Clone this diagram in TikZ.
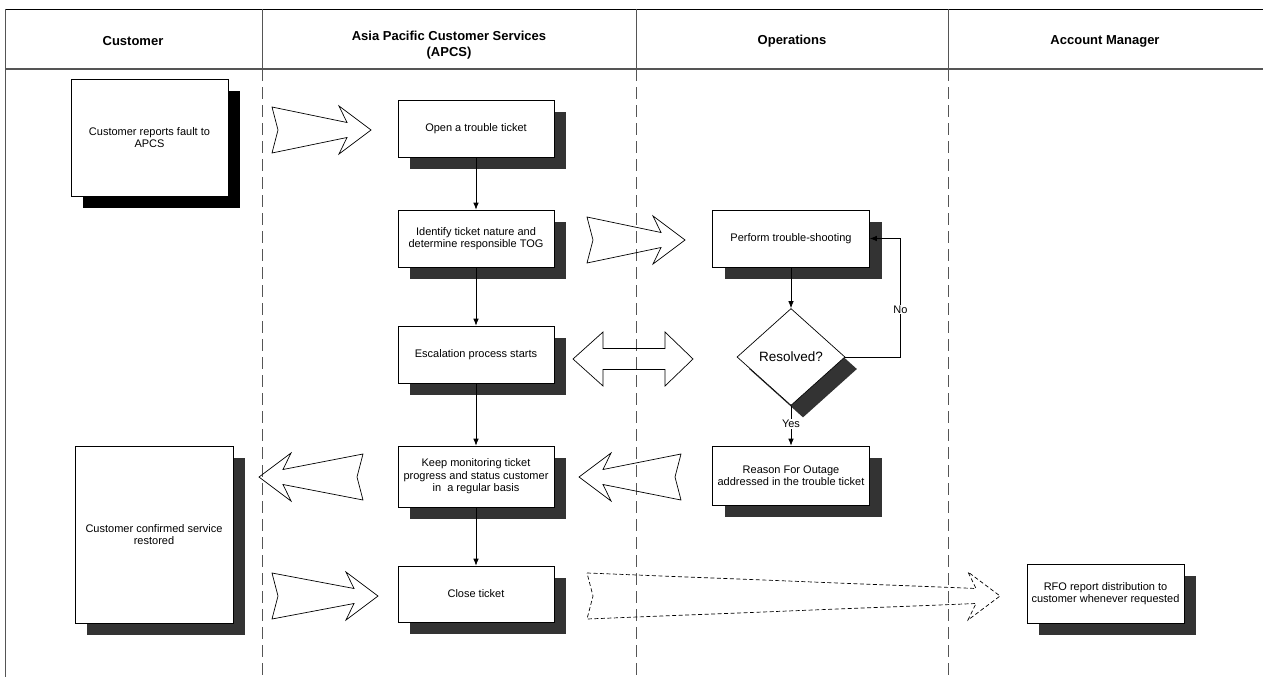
\documentclass[tikz,border=0pt]{standalone}
\usepackage{fontspec}
\setmainfont{Liberation Sans}
\usetikzlibrary{shapes.geometric,shadows,calc,arrows.meta}
\definecolor{shadowgray}{HTML}{333333}
\definecolor{lanegray}{HTML}{555555}

\tikzset{
  box/.style={draw=black, line width=0.7pt, fill=white,
    minimum width=156pt, minimum height=57pt, inner sep=2pt, align=center,
    font=\fontsize{11}{12.5}\selectfont,
    drop shadow={shadow xshift=12pt, shadow yshift=-12pt, opacity=1, fill=#1}},
  box/.default=shadowgray,
  decision/.style={diamond, draw=black, line width=0.7pt, fill=white,
    minimum width=108pt, minimum height=97pt, inner sep=0pt,
    font=\fontsize{13.5}{15}\selectfont,
    drop shadow={shadow xshift=12pt, shadow yshift=-12pt, opacity=1, fill=shadowgray}},
  header/.style={align=center, font=\fontsize{13}{16}\selectfont\bfseries},
  lanesolid/.style={draw=lanegray, line width=0.8pt},
  lanedash/.style={draw=lanegray, line width=0.8pt, dash pattern=on 12pt off 6pt},
  flow/.style={draw=black, line width=0.7pt, -{Latex[length=7pt,width=5.5pt]}},
  lbl/.style={fill=white, inner sep=1pt, font=\fontsize{11}{12}\selectfont},
  blockarrow/.style={draw=black, line width=0.7pt, line join=miter},
  dashedblock/.style={dash pattern=on 4pt off 2.5pt}
}

% notched, tapering block arrow: tail coordinate, tip coordinate, direction (1 = right, -1 = left)
\newcommand\fatarrow[4][]{%
  \draw[blockarrow,#1]
    ($(#2)+(0,-23)$) -- ($(#3)+({-(#4)*24},-7.5)$) -- ($(#3)+({-(#4)*32},-24)$) -- (#3)
    -- ($(#3)+({-(#4)*32},24)$) -- ($(#3)+({-(#4)*24},7.5)$) -- ($(#2)+(0,23)$)
    -- ($(#2)+({(#4)*6},0)$) -- cycle;}

\begin{document}
\begin{tikzpicture}[x=1pt,y=-1pt]
\useasboundingbox (0,0) rectangle (1263,677);

% swimlane frame
\draw[black, line width=0.8pt] (5,9) -- (1263,9);
\draw[lanegray, line width=1.2pt] (5,69) -- (1263,69);
\draw[lanesolid] (5,9) -- (5,677);
\foreach \lx in {262,636,948}{
  \draw[lanesolid] (\lx,9) -- (\lx,69);
  \draw[lanedash] (\lx,69) -- (\lx,677);
}

% lane titles
\node[header] (hcust) at (133,41) {Customer};
\node[header] (hapcs) at (449,45) {Asia Pacific Customer Services\\(APCS)};
\node[header] (hops) at (792,41) {Operations};
\node[header] (hacc) at (1105,41) {Account Manager};

% process steps
\node[box=black, minimum width=157pt, minimum height=117pt] (cfault) at (149.5,137.5) {Customer reports fault to\\APCS};
\node[box] (open) at (476,128.5) {Open a trouble ticket};
\node[box] (ident) at (476,238.5) {Identify ticket nature and\\determine responsible TOG};
\node[box] (esc) at (476,354.5) {Escalation process starts};
\node[box, minimum height=61pt] (keep) at (476,476.5) {Keep monitoring ticket\\progress and status customer\\in\ \ a regular basis};
\node[box, minimum height=56pt] (close) at (476,594) {Close ticket};

\node[box, minimum width=157pt] (perf) at (791,238.5) {Perform trouble-shooting};
\node[decision] (res) at (791,357) {Resolved?};
\node[box, minimum width=157pt, minimum height=59pt] (rfo) at (791,475.5) {Reason For Outage\\addressed in the trouble ticket};

\node[box, minimum width=158pt, minimum height=177pt] (cconf) at (154,534.5) {Customer confirmed service\\restored};
\node[box, minimum width=157pt, minimum height=59pt] (rforep) at (1105.5,593.5) {RFO report distribution to\\customer whenever requested};

% flow inside the lanes
\draw[flow] (open) -- (ident);
\draw[flow] (ident) -- (esc);
\draw[flow] (esc) -- (keep);
\draw[flow] (keep) -- (close);
\draw[flow] (perf) -- (res);
\draw[flow] (res) -- node[lbl, pos=0.46] {Yes} (rfo);
\draw[flow] (res.east) -- ++(55,0) |- node[lbl, pos=0.2] {No} (perf.east);

% hand-offs between lanes
\coordinate (a1s) at (272,130);  \coordinate (a1e) at (371,130);
\coordinate (a2s) at (587,240);  \coordinate (a2e) at (685,240);
\coordinate (a3s) at (681,477);  \coordinate (a3e) at (579,477);
\coordinate (a4s) at (363,477);  \coordinate (a4e) at (259,477);
\coordinate (a5s) at (272,596);  \coordinate (a5e) at (378,596);
\coordinate (a6s) at (587,596);  \coordinate (a6e) at (1000,596);
\fatarrow{a1s}{a1e}{1}
\fatarrow{a2s}{a2e}{1}
\fatarrow{a3s}{a3e}{-1}
\fatarrow{a4s}{a4e}{-1}
\fatarrow{a5s}{a5e}{1}
\fatarrow[dashedblock]{a6s}{a6e}{1}

% two-way escalation arrow
\coordinate (escL) at (573,359);
\coordinate (escR) at (693,359);
\draw[blockarrow] (escL) -- ($(escL)+(30,-27)$) -- ($(escL)+(30,-10.5)$)
  -- ($(escR)+(-28,-10.5)$) -- ($(escR)+(-28,-27)$) -- (escR)
  -- ($(escR)+(-28,27)$) -- ($(escR)+(-28,10.5)$) -- ($(escL)+(30,10.5)$)
  -- ($(escL)+(30,27)$) -- cycle;
\end{tikzpicture}
\end{document}
